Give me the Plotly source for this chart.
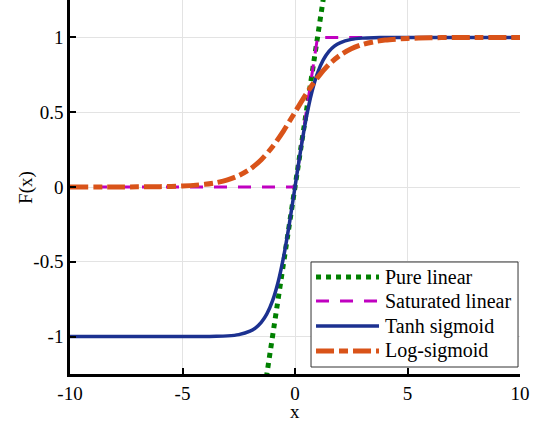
import plotly.graph_objects as go

# Transfer functions sampled on the input axis
lin_x = [-10, 10]
lin_y = [-10, 10]

sat_x = [-10, 0, 1, 10]
sat_y = [0, 0, 1, 1]

tanh_x = [-10, -5, -4, -3.5, -3, -2.5, -2, -1.75, -1.5, -1.25, -1, -0.75, -0.5, -0.25, 0,
          0.25, 0.5, 0.75, 1, 1.25, 1.5, 1.75, 2, 2.5, 3, 3.5, 4, 5, 10]
tanh_y = [-1.0, -0.9999, -0.9993, -0.9982, -0.9951, -0.9866, -0.9640, -0.9414, -0.9051, -0.8483,
          -0.7616, -0.6351, -0.4621, -0.2449, 0.0, 0.2449, 0.4621, 0.6351, 0.7616, 0.8483,
          0.9051, 0.9414, 0.9640, 0.9866, 0.9951, 0.9982, 0.9993, 0.9999, 1.0]

logsig_x = [-10, -8, -7, -6, -5, -4, -3.5, -3, -2.5, -2, -1.5, -1, -0.5, 0, 0.5, 1, 1.5, 2,
            2.5, 3, 3.5, 4, 5, 6, 7, 8, 10]
logsig_y = [0.0000, 0.0003, 0.0009, 0.0025, 0.0067, 0.0180, 0.0293, 0.0474, 0.0759, 0.1192,
            0.1824, 0.2689, 0.3775, 0.5, 0.6225, 0.7311, 0.8176, 0.8808, 0.9241, 0.9526,
            0.9707, 0.9820, 0.9933, 0.9975, 0.9991, 0.9997, 1.0]

series_names = ["Pure linear", "Saturated linear", "Tanh sigmoid", "Log-sigmoid"]

x_ticks = [-10, -5, 0, 5, 10]
x_tick_text = ["-10", "-5", "0", "5", "10"]
y_ticks = [-1, -0.5, 0, 0.5, 1]
y_tick_text = ["-1", "-0.5", "0", "0.5", "1"]

font_family = "Liberation Serif"

styles = [
    dict(color="#008000", width=5, dash="dot"),
    dict(color="#c000c0", width=3, dash="13px,11px"),
    dict(color="#1c3190", width=3.5),
    dict(color="#d95319", width=5, dash="18px,5px,9px,5px"),
]

fig = go.Figure()
fig.add_trace(go.Scatter(x=lin_x, y=lin_y, mode="lines", name=series_names[0],
                         line=styles[0]))
fig.add_trace(go.Scatter(x=sat_x, y=sat_y, mode="lines", name=series_names[1],
                         line=styles[1]))
fig.add_trace(go.Scatter(x=tanh_x, y=tanh_y, mode="lines", name=series_names[2],
                         line=dict(**styles[2], shape="spline", smoothing=0.8)))
fig.add_trace(go.Scatter(x=logsig_x, y=logsig_y, mode="lines", name=series_names[3],
                         line=dict(**styles[3], shape="spline", smoothing=0.8)))

# Boxed legend in the lower-right corner, with long line samples
box_x0, box_x1, box_y0, box_y1 = 0.5356, 0.9956, 0.0187, 0.2995
sample_x0, sample_x1, text_x = 0.5467, 0.6867, 0.6956
row_y = [0.2594, 0.1952, 0.1283, 0.0615]

shapes = [dict(type="rect", xref="paper", yref="paper", x0=box_x0, x1=box_x1,
               y0=box_y0, y1=box_y1, fillcolor="white",
               line=dict(color="#333333", width=1))]
annotations = []
for name, style, ry in zip(series_names, styles, row_y):
    shapes.append(dict(type="line", xref="paper", yref="paper", x0=sample_x0, x1=sample_x1,
                       y0=ry, y1=ry, line=style))
    annotations.append(dict(text=name, xref="paper", yref="paper", x=text_x, y=ry,
                            xanchor="left", yanchor="middle", showarrow=False,
                            font=dict(family=font_family, size=20, color="black")))

# Axis titles
annotations.append(dict(text="x", xref="paper", yref="paper", x=0.5, y=-0.099,
                        xanchor="center", yanchor="middle", showarrow=False,
                        font=dict(family=font_family, size=19, color="black")))
annotations.append(dict(text="F(x)", xref="paper", yref="paper", x=-0.098, y=0.5,
                        xanchor="center", yanchor="middle", showarrow=False, textangle=-90,
                        font=dict(family=font_family, size=19, color="black")))

fig.update_layout(
    width=546, height=428,
    margin=dict(l=70, r=26, t=0, b=54),
    paper_bgcolor="white", plot_bgcolor="white",
    font=dict(family=font_family, size=19, color="black"),
    showlegend=False,
    shapes=shapes,
    annotations=annotations,
)
fig.update_xaxes(range=[-10, 10], tickvals=x_ticks, ticktext=x_tick_text, ticks="inside",
                 ticklen=6, tickwidth=2, tickcolor="black", showline=True, linecolor="black",
                 linewidth=2.5, showgrid=True, gridcolor="#e3e3e3", gridwidth=1, zeroline=False)
fig.update_yaxes(range=[-1.25, 1.25], tickvals=y_ticks, ticktext=y_tick_text, ticks="inside",
                 ticklen=6, tickwidth=2, tickcolor="black", showline=True, linecolor="black",
                 linewidth=2.5, showgrid=True, gridcolor="#e3e3e3", gridwidth=1, zeroline=False)

fig.write_html("out.html")
